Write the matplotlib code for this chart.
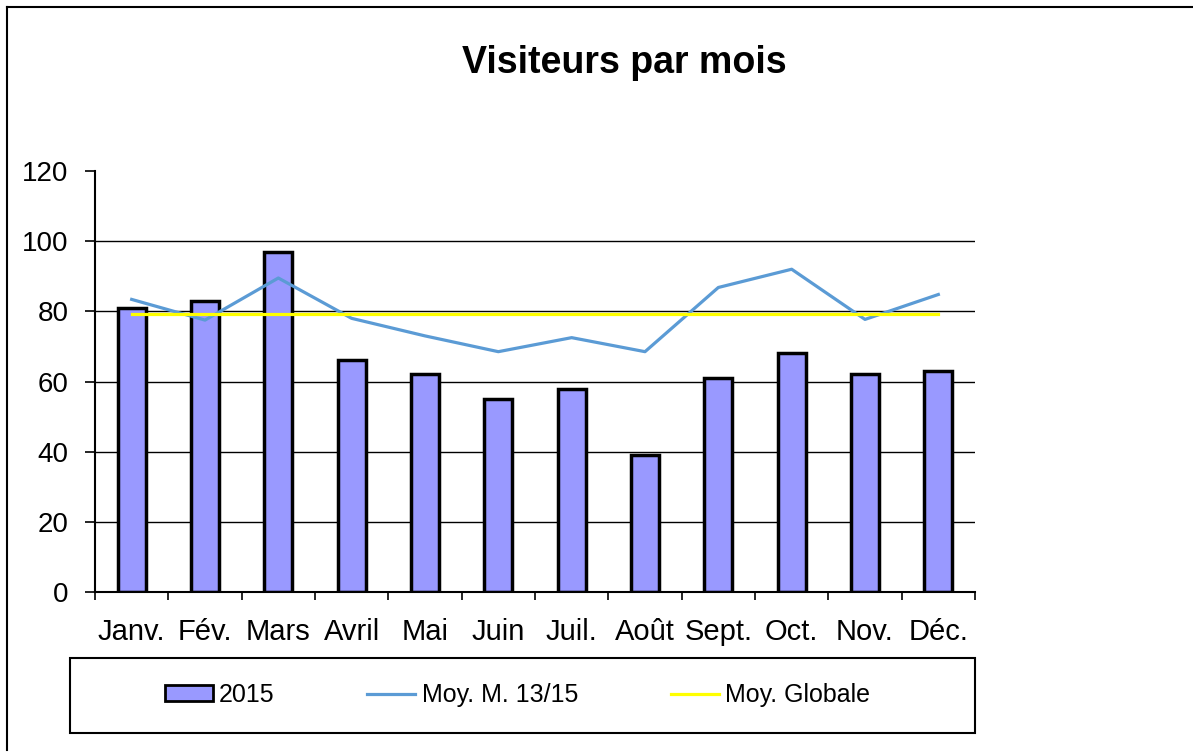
import matplotlib
matplotlib.use("Agg")
import matplotlib.pyplot as plt
from matplotlib.lines import Line2D
from matplotlib.patches import Rectangle, Patch
import numpy as np

plt.rcParams['font.family'] = ['Liberation Sans', 'DejaVu Sans']

mois = ["Janv.", "Fév.", "Mars", "Avril", "Mai", "Juin", "Juil.", "Août",
        "Sept.", "Oct.", "Nov.", "Déc."]
visiteurs_2015 = [81, 83, 97, 66, 62, 55, 58, 39, 61, 68, 62, 63]
moy_mensuelle_13_15 = [83.4, 77.5, 89.5, 78, 73, 68.5, 72.5, 68.5, 86.8, 92, 77.7, 84.8]
moy_globale = [79.2, 79.2, 79.2, 79.2, 79.2, 79.2, 79.2, 79.2, 79.2, 79.2, 79.2, 79.2]
y_ticks = [0, 20, 40, 60, 80, 100, 120]

W, H = 1193, 753
fig = plt.figure(figsize=(W / 100, H / 100), dpi=100)
ax = fig.add_axes([95 / W, 161 / H, 880 / W, 421 / H])

x = np.arange(len(mois))

# gridlines (not at 0 / 120)
for v in y_ticks[1:-1]:
    ax.axhline(v, color='black', lw=1.0, zorder=1)

ax.bar(x, visiteurs_2015, width=0.38, color='#9999FF', edgecolor='black',
       linewidth=2.5, zorder=2, label='2015')
ax.plot(x, moy_mensuelle_13_15, color='#5B9BD5', lw=2.3, zorder=3,
        label='Moy. M. 13/15')
ax.plot(x, moy_globale, color='#FFFF00', lw=2.3, zorder=3, label='Moy. Globale')

ax.set_xlim(-0.5, len(mois) - 0.5)
ax.set_ylim(0, 120)
ax.set_yticks(y_ticks)
ax.set_yticklabels([str(v) for v in y_ticks])
ax.set_xticks(x)
ax.set_xticklabels(mois)
ax.set_xticks(np.arange(-0.5, len(mois), 1.0), minor=True)

for s in ['top', 'right']:
    ax.spines[s].set_visible(False)
for s in ['left', 'bottom']:
    ax.spines[s].set_linewidth(1.5)
    ax.spines[s].set_color('black')

ax.tick_params(axis='y', which='major', direction='out', length=7, width=1.2,
               labelsize=20, pad=12, colors='black')
ax.tick_params(axis='x', which='major', length=0, labelsize=21, pad=19)
ax.tick_params(axis='x', which='minor', direction='out', length=6, width=1.2)

fig.text(624 / W, 1 - 63 / H, "Visiteurs par mois", ha='center', va='center',
         fontsize=27, fontweight='bold')

# legend
handles = [Patch(facecolor='#9999FF', edgecolor='black', linewidth=2),
           Line2D([], [], color='#5B9BD5', lw=2.3),
           Line2D([], [], color='#FFFF00', lw=2.3)]
labels = ['2015', 'Moy. M. 13/15', 'Moy. Globale']
fig.legend(handles, labels, loc='center left',
           bbox_to_anchor=(165 / W, 1 - 695 / H), ncol=3, frameon=False,
           fontsize=18, handlelength=1.92, handleheight=0.6, handletextpad=0.25,
           columnspacing=3.7, borderpad=0, borderaxespad=0)
fig.patches.append(Rectangle((70 / W, 20 / H), 905 / W, 75 / H, fill=False,
                             edgecolor='black', lw=1.5, transform=fig.transFigure))

# figure border (left and top)
fig.lines.append(Line2D([7 / W, 7 / W], [3 / H, 1 - 7 / H], color='black', lw=1.5,
                        transform=fig.transFigure))
fig.lines.append(Line2D([7 / W, 1.0], [1 - 7 / H, 1 - 7 / H], color='black', lw=1.5,
                        transform=fig.transFigure))

fig.savefig("out.png", dpi=100)
